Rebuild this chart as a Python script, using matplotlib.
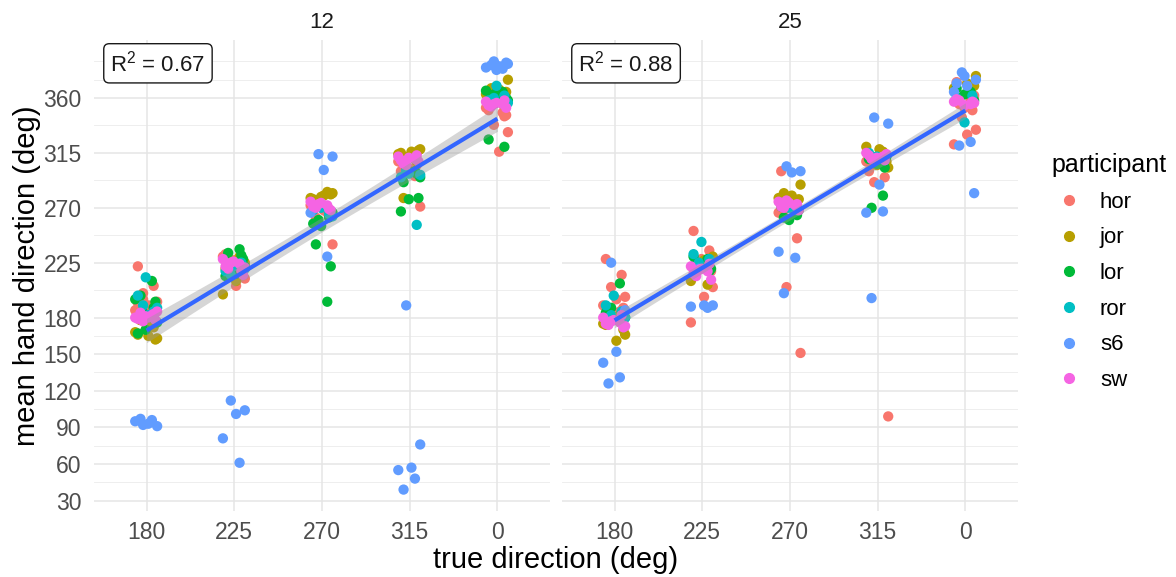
import numpy as np
import matplotlib.pyplot as plt
from matplotlib.lines import Line2D

plt.rcParams['font.family'] = ['Liberation Sans', 'DejaVu Sans']
plt.rcParams['mathtext.fontset'] = 'custom'
plt.rcParams['mathtext.rm'] = 'Liberation Sans'

# true direction categories (x axis, discrete)
directions = ['180', '225', '270', '315', '0']
participants = ['hor', 'jor', 'lor', 'ror', 's6', 'sw']
colors = ['#F8766D', '#B79F00', '#00BA38', '#00BFC4', '#619CFF', '#F564E3']
panels = ['12', '25']
r2_labels = ['0.67', '0.88']
yticks = [30, 60, 90, 120, 150, 180, 225, 270, 315, 360]

# mean hand direction (deg), one list per true direction
hor_12 = [[222, 206, 200, 193, 190, 186, 183, 178, 188, 185, 192, 181, 195],
          [232, 228, 220, 212, 206, 230, 225, 222, 218, 227],
          [270, 265, 275, 240, 268, 272, 266, 262],
          [300, 305, 298, 271, 302, 308, 296, 304],
          [350, 345, 338, 332, 316, 352, 348, 355, 346]]
jor_12 = [[163, 165, 168, 175, 178, 162, 170, 166, 172],
          [225, 210, 199, 230, 228, 223, 226, 220],
          [282, 280, 278, 283, 276, 281, 279, 277],
          [318, 316, 314, 310, 278, 317, 312, 315, 308],
          [375, 367, 363, 355, 368, 365, 360, 362]]
lor_12 = [[210, 198, 193, 170, 167, 188, 184, 176, 180, 195],
          [236, 233, 228, 218, 214, 231, 225, 222, 216],
          [193, 240, 222, 255, 257, 262, 260, 266],
          [300, 291, 278, 277, 267, 298, 303, 295],
          [365, 362, 360, 357, 326, 320, 363, 358, 361, 366]]
ror_12 = [[213, 198, 185, 190, 188, 182],
          [222, 218, 225, 215, 220],
          [270, 268, 265, 272, 263],
          [298, 295, 256, 300, 297],
          [370, 358, 362, 360, 356]]
s6_12 = [[92, 91, 93, 95, 96, 97],
         [112, 104, 101, 81, 61],
         [314, 312, 301, 266, 230],
         [190, 76, 57, 55, 48, 39],
         [390, 388, 386, 385, 384, 387, 389, 383]]
sw_12 = [[180, 182, 184, 178, 181, 179, 183, 177, 185, 180],
         [228, 224, 220, 215, 226, 222, 218, 225, 221],
         [275, 272, 270, 268, 274, 271, 269, 273],
         [312, 310, 306, 308, 311, 309, 313, 305],
         [357, 355, 353, 352, 356, 354, 358, 355]]

hor_25 = [[228, 215, 205, 197, 195, 190, 185, 182, 188, 178],
          [251, 235, 220, 205, 197, 176, 225, 222, 218, 228],
          [300, 245, 205, 151, 270, 266, 272, 268],
          [300, 295, 291, 99, 312, 308, 315, 305],
          [373, 350, 344, 334, 330, 322, 358, 355, 362, 352]]
jor_25 = [[166, 161, 175, 182, 178, 170, 180, 174],
          [230, 227, 210, 207, 225, 228, 222],
          [289, 280, 278, 275, 282, 277, 279],
          [303, 318, 320, 316, 312, 308, 305],
          [378, 372, 368, 365, 360, 370]]
lor_25 = [[208, 185, 182, 178, 184, 176, 188, 180],
          [228, 225, 220, 223, 230, 218],
          [265, 262, 268, 260, 271, 264],
          [280, 270, 312, 306, 310, 303],
          [365, 360, 358, 363, 368, 356]]
ror_25 = [[198, 190, 185, 182, 180],
          [242, 232, 228, 225],
          [270, 274, 268],
          [312, 315, 309],
          [340, 360, 362]]
s6_25 = [[225, 186, 152, 143, 131, 126],
         [220, 190, 190, 189, 188],
         [304, 300, 299, 234, 229, 200],
         [344, 339, 289, 266, 267, 196],
         [381, 375, 370, 365, 324, 321, 282, 378, 372]]
sw_25 = [[180, 176, 174, 172, 178, 175, 182, 177, 173],
         [222, 218, 214, 211, 220, 216, 224, 219],
         [275, 272, 270, 268, 274, 271, 273, 276],
         [315, 312, 310, 314, 311, 313, 309],
         [357, 355, 358, 356, 354, 359, 357]]

data = {'12': [hor_12, jor_12, lor_12, ror_12, s6_12, sw_12],
        '25': [hor_25, jor_25, lor_25, ror_25, s6_25, sw_25]}

# fixed jitter pattern (instead of random jitter)
jit = np.array([-0.10, 0.08, -0.04, 0.12, 0.02, -0.13, 0.06, -0.07, 0.10, -0.01])

W, H = 1176, 577
fig = plt.figure(figsize=(W / 100, H / 100), dpi=100)

allv = [v for p in panels for part in data[p] for d in part for v in d]
ymin, ymax = min(allv), max(allv)
pad = 0.05 * (ymax - ymin)
ylim = (ymin - pad, ymax + pad)
minor = [15, 45, 75, 105, 135, 165, 202.5, 247.5, 292.5, 337.5, 375, 390]

axes = []
for k, p in enumerate(panels):
    left = [94, 562][k]
    ax = fig.add_axes([left / W, 1 - 511 / H, 456 / W, 471 / H])
    axes.append(ax)
    for s in ax.spines.values():
        s.set_visible(False)
    ax.set_xlim(0.4, 5.6)
    ax.set_ylim(*ylim)
    for m in minor:
        ax.axhline(m, color='#EBEBEB', lw=0.6, zorder=0)
    for t in yticks:
        ax.axhline(t, color='#E5E5E5', lw=1.1, zorder=0)
    for i in range(5):
        ax.axvline(i + 1, color='#E5E5E5', lw=1.1, zorder=0)

    xs_all, ys_all = [], []
    for j, part in enumerate(data[p]):
        xs, ys = [], []
        for i, vals in enumerate(part):
            for n, v in enumerate(vals):
                xs.append(i + 1 + jit[(n + 3 * j) % len(jit)])
                ys.append(v)
                xs_all.append(i + 1)
                ys_all.append(v)
        ax.scatter(xs, ys, s=55, color=colors[j], edgecolors='none', zorder=3)

    # linear fit with 95% CI, like geom_smooth(method='lm')
    xa, ya = np.array(xs_all, float), np.array(ys_all, float)
    b, a = np.polyfit(xa, ya, 1)
    xx = np.linspace(1, 5, 80)
    yy = a + b * xx
    n = len(xa)
    resid = ya - (a + b * xa)
    s_err = np.sqrt(np.sum(resid ** 2) / (n - 2))
    se = s_err * np.sqrt(1 / n + (xx - xa.mean()) ** 2 / np.sum((xa - xa.mean()) ** 2))
    ax.fill_between(xx, yy - 1.97 * se, yy + 1.97 * se, color='#999999', alpha=0.4,
                    lw=0, zorder=4)
    ax.plot(xx, yy, color='#3366FF', lw=3, zorder=5, solid_capstyle='butt')

    ax.set_xticks(range(1, 6))
    ax.set_xticklabels(directions)
    ax.set_yticks(yticks)
    ax.tick_params(length=0, labelsize=16.5, labelcolor='#4D4D4D', pad=7)
    ax.tick_params(axis='y', pad=9)
    if k == 1:
        ax.set_yticklabels([])
    ax.text(0.5, 1 + 18 / 471, p, transform=ax.transAxes, ha='center', va='center',
            fontsize=16, color='#1A1A1A')
    ax.text(0.036, 0.978, r'R$^{\mathregular{2}}$ = ' + r2_labels[k], transform=ax.transAxes,
            ha='left', va='top', fontsize=16, color='#1A1A1A', zorder=6,
            bbox=dict(boxstyle='round,pad=0.3,rounding_size=0.25', fc='white', ec='#1A1A1A', lw=1))

fig.text(27 / W, 1 - 276 / H, 'mean hand direction (deg)', rotation=90, ha='center',
         va='center', fontsize=21)
fig.text(556 / W, 1 - 560 / H, 'true direction (deg)', ha='center', va='center', fontsize=21)

handles = [Line2D([], [], marker='o', ls='', color=c, markersize=7) for c in colors]
fig.legend(handles, participants, title='participant', loc='upper left',
           bbox_to_anchor=(1031 / W, 1 - 133 / H), frameon=False, fontsize=16,
           title_fontsize=18, labelspacing=0.66, handletextpad=0.6, handlelength=1.6,
           alignment='left')

fig.savefig('out.png', dpi=100)
